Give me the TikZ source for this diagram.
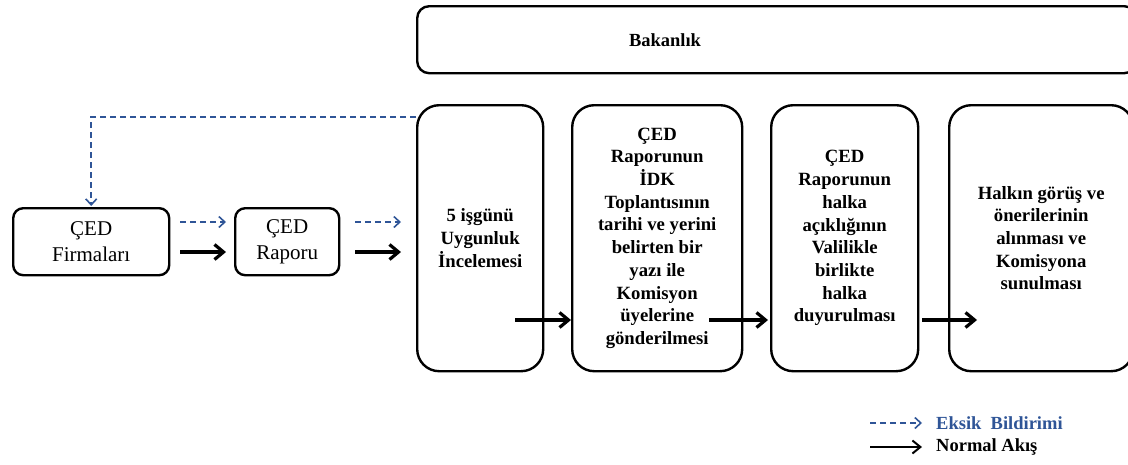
\documentclass[tikz,border=0pt]{standalone}
\usepackage{fontspec}
\setmainfont{Liberation Serif}
\usetikzlibrary{arrows.meta}
\definecolor{eksikblue}{RGB}{47,85,151}
\begin{document}
\begin{tikzpicture}[x=1pt,y=-1pt,
  smallbox/.style={draw,line width=2.4pt,rounded corners=10pt,fill=white,
    font=\fontsize{21}{26}\selectfont,align=center,inner sep=0pt},
  tallbox/.style={draw,line width=2.4pt,rounded corners=22pt,fill=white,
    font=\bfseries\fontsize{18.7}{22.7}\selectfont,align=center,inner sep=0pt,
    minimum height=266pt},
  topbox/.style={draw,line width=2.4pt,rounded corners=12pt,fill=white,inner sep=0pt},
  flow/.style={line width=3.2pt,-{Straight Barb[length=9pt,width=15pt,line width=3.2pt]}},
  eksik/.style={eksikblue,line width=1.6pt,dash pattern=on 6pt off 4pt,
    -{Straight Barb[length=6pt,width=11pt,line width=1.6pt]}},
  legtext/.style={font=\bfseries\fontsize{18.5}{20}\selectfont,anchor=west,inner sep=0pt}
]
\useasboundingbox (0,0) rectangle (1128,464);
\clip (0,0) rectangle (1128,464);

% ministry banner
\node[topbox,minimum width=719pt,minimum height=67pt,anchor=north west] (bakanlik) at (416,5) {};
\node[font=\bfseries\fontsize{18.5}{21}\selectfont] (bakanlikText) at (665,40) {Bakanlık};

% starting boxes
\node[smallbox,minimum width=156pt,minimum height=67pt,anchor=north west] (firma) at (12,207) {ÇED\\Firmaları};
\node[smallbox,minimum width=104pt,minimum height=67pt,anchor=north west] (rapor) at (234,207) {ÇED\\Raporu};

% process steps
\node[tallbox,minimum width=126pt,anchor=north west] (s1) at (416,104)
  {5 işgünü\\Uygunluk\\İncelemesi};
\node[tallbox,minimum width=170pt,anchor=north west] (s2) at (571,104)
  {ÇED\\Raporunun\\İDK\\Toplantısının\\tarihi ve yerini\\belirten bir\\yazı ile\\Komisyon\\üyelerine\\gönderilmesi};
\node[tallbox,minimum width=147pt,anchor=north west] (s3) at (770,104)
  {ÇED\\Raporunun\\halka\\açıklığının\\Valilikle\\birlikte\\halka\\duyurulması};
\node[tallbox,minimum width=184pt,anchor=north west] (s4) at (948,104)
  {Halkın görüş ve\\önerilerinin\\alınması ve\\Komisyona\\sunulması};

% row heights for connectors
\coordinate (yd) at (0,222);
\coordinate (ys) at (0,252);
\coordinate (yf) at (0,320);
\coordinate (yb) at (0,117);

% between the starting boxes
\draw[eksik] ([xshift=10pt]firma.east |- yd) -- ([xshift=-8pt]rapor.west |- yd);
\draw[flow]  ([xshift=10pt]firma.east |- ys) -- ([xshift=-8pt]rapor.west |- ys);
\draw[eksik] ([xshift=15pt]rapor.east |- yd) -- ([xshift=-15pt]s1.west |- yd);
\draw[flow]  ([xshift=15pt]rapor.east |- ys) -- ([xshift=-15pt]s1.west |- ys);

% return path for incomplete files
\draw[eksik] (s1.west |- yb) -| ([yshift=1pt]firma.north);

% main flow between the steps
\draw[flow] ([xshift=-29pt]s1.east |- yf) -- (s2.west |- yf);
\draw[flow] ([xshift=-34pt]s2.east |- yf) -- ([xshift=-2pt]s3.west |- yf);
\draw[flow] ([xshift=3pt]s3.east |- yf) -- ([xshift=29pt]s4.west |- yf);

% legend
\coordinate (l1a) at (870,423);
\coordinate (l1b) at (922,423);
\coordinate (l2a) at (870,447);
\coordinate (l2b) at (922,447);
\draw[eksik] (l1a) -- (l1b);
\draw[flow,line width=2pt,-{Straight Barb[length=8pt,width=13pt,line width=2pt]}] (l2a) -- (l2b);
\node[legtext,text=eksikblue] (legEksik) at (936,423) {Eksik\ \ Bildirimi};
\node[legtext] (legNormal) at (936,447) {Normal Akış};
\end{tikzpicture}
\end{document}
